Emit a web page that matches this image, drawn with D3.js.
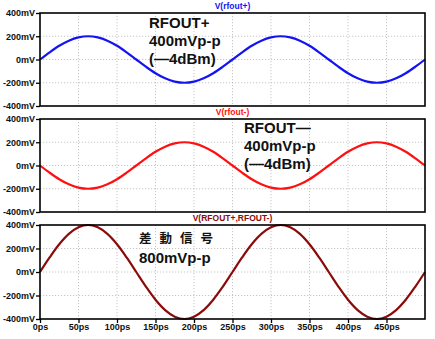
<!DOCTYPE html>
<html><head><meta charset="utf-8">
<script src="https://cdn.jsdelivr.net/npm/d3@7"></script>
<style>body{margin:0;background:#fff}svg{display:block}</style>
</head><body>
<script>
// ---- data ----
const timePs = [0,12.5,25,37.5,50,62.5,75,87.5,100,112.5,125,137.5,150,162.5,175,187.5,200,212.5,225,237.5,250,262.5,275,287.5,300,312.5,325,337.5,350,362.5,375,387.5,400,412.5,425,437.5,450,462.5,475,487.5,500];
const rfoutP = [0,62,118,162,190,200,190,162,118,62,0,-62,-118,-162,-190,-200,-190,-162,-118,-62,0,62,118,162,190,200,190,162,118,62,0,-62,-118,-162,-190,-200,-190,-162,-118,-62,0];
const rfoutM = [0,-62,-118,-162,-190,-200,-190,-162,-118,-62,0,62,118,162,190,200,190,162,118,62,0,-62,-118,-162,-190,-200,-190,-162,-118,-62,0,62,118,162,190,200,190,162,118,62,0];
const diffPM = [0,124,236,324,380,400,380,324,236,124,0,-124,-236,-324,-380,-400,-380,-324,-236,-124,0,124,236,324,380,400,380,324,236,124,0,-124,-236,-324,-380,-400,-380,-324,-236,-124,0];
const yTicks = [400,200,0,-200,-400];
const yTickLabels = ["400mV","200mV","0mV","-200mV","-400mV"];
const xTicks = [0,50,100,150,200,250,300,350,400,450];
const xTickLabels = ["0ps","50ps","100ps","150ps","200ps","250ps","300ps","350ps","400ps","450ps"];
const titles = ["V(rfout+)","V(rfout-)","V(RFOUT+,RFOUT-)"];
const notes = [["RFOUT+","400mVp-p","(\u20144dBm)"],["RFOUT\u2014","400mVp-p","(\u20144dBm)"],["差 動 信 号","800mVp-p"]];

// ---- layout ----
const W=435,H=339;
const L=40,R=425;
const panels=[
  {top:13,bot:106,data:rfoutP,color:"#1414f0",tcol:"#1414f0",note:{x:149,y:28}},
  {top:119,bot:212,data:rfoutM,color:"#ff1010",tcol:"#ff1010",note:{x:244,y:133}},
  {top:225,bot:319,data:diffPM,color:"#8b0a0a",tcol:"#8b0a0a",note:{x:139,y:243}}
];
const svg=d3.select("body").append("svg").attr("width",W).attr("height",H);
const x=d3.scaleLinear().domain([0,500]).range([L,R]);
const font="'Liberation Sans', Arial, sans-serif";

panels.forEach((p,i)=>{
  const y=d3.scaleLinear().domain([-400,400]).range([p.bot,p.top]);
  const g=svg.append("g");
  // grid
  g.selectAll(".vg").data(xTicks.filter(t=>t>0)).join("line")
    .attr("x1",d=>x(d)).attr("x2",d=>x(d)).attr("y1",p.top).attr("y2",p.bot)
    .attr("stroke","#b8b8b8").attr("stroke-width",0.8).attr("stroke-dasharray","1.2,1.8");
  g.selectAll(".hg").data([200,0,-200]).join("line")
    .attr("x1",L).attr("x2",R).attr("y1",d=>y(d)).attr("y2",d=>y(d))
    .attr("stroke","#b8b8b8").attr("stroke-width",0.8).attr("stroke-dasharray","1.2,1.8");
  // y axis ticks
  const ya=d3.axisLeft(y).tickValues(yTicks).tickSize(4).tickPadding(1)
    .tickFormat((d,k)=>yTickLabels[k]);
  const yg=g.append("g").attr("transform",`translate(${L},0)`).call(ya);
  yg.select(".domain").remove();
  yg.selectAll("line").attr("stroke","#000").attr("stroke-width",1.3);
  yg.selectAll("text").attr("font-family",font).attr("font-weight","bold").attr("font-size",9).attr("fill","#111");
  if(i===2){
    const xa=d3.axisBottom(x).tickValues(xTicks).tickSize(4).tickPadding(1)
      .tickFormat((d,k)=>xTickLabels[k]);
    const xg=g.append("g").attr("transform",`translate(0,${p.bot})`).call(xa);
    xg.select(".domain").remove();
    xg.selectAll("line").attr("stroke","#000").attr("stroke-width",1.3);
    xg.selectAll("text").attr("font-family",font).attr("font-weight","bold").attr("font-size",9).attr("fill","#111");
  }
  // curve
  const line=d3.line().x((d,k)=>x(timePs[k])).y(d=>y(d)).curve(d3.curveCatmullRom);
  g.append("path").datum(p.data).attr("d",line).attr("fill","none")
    .attr("stroke",p.color).attr("stroke-width",2.2);
  // frame
  g.append("rect").attr("x",L).attr("y",p.top).attr("width",R-L).attr("height",p.bot-p.top)
    .attr("fill","none").attr("stroke","#000").attr("stroke-width",1.6);
  // title
  g.append("text").attr("x",(L+R)/2).attr("y",p.top-4).attr("text-anchor","middle")
    .attr("font-family",font).attr("font-weight","bold").attr("font-size",8.5)
    .attr("fill",p.tcol).text(titles[i]);
  // annotation
  const lines=notes[i];
  lines.forEach((t,k)=>{
    const cjk = i===2&&k===0;
    g.append("text").attr("x",p.note.x).attr("y",p.note.y+k*(i===2?20:18))
      .attr("font-family",cjk?"'Noto Sans CJK JP', sans-serif":font)
      .attr("font-weight","bold").attr("font-size",cjk?12.5:15)
      .attr("letter-spacing",cjk?2.6:0)
      .attr("fill","#111").text(t);
  });
});
</script>
</body></html>
